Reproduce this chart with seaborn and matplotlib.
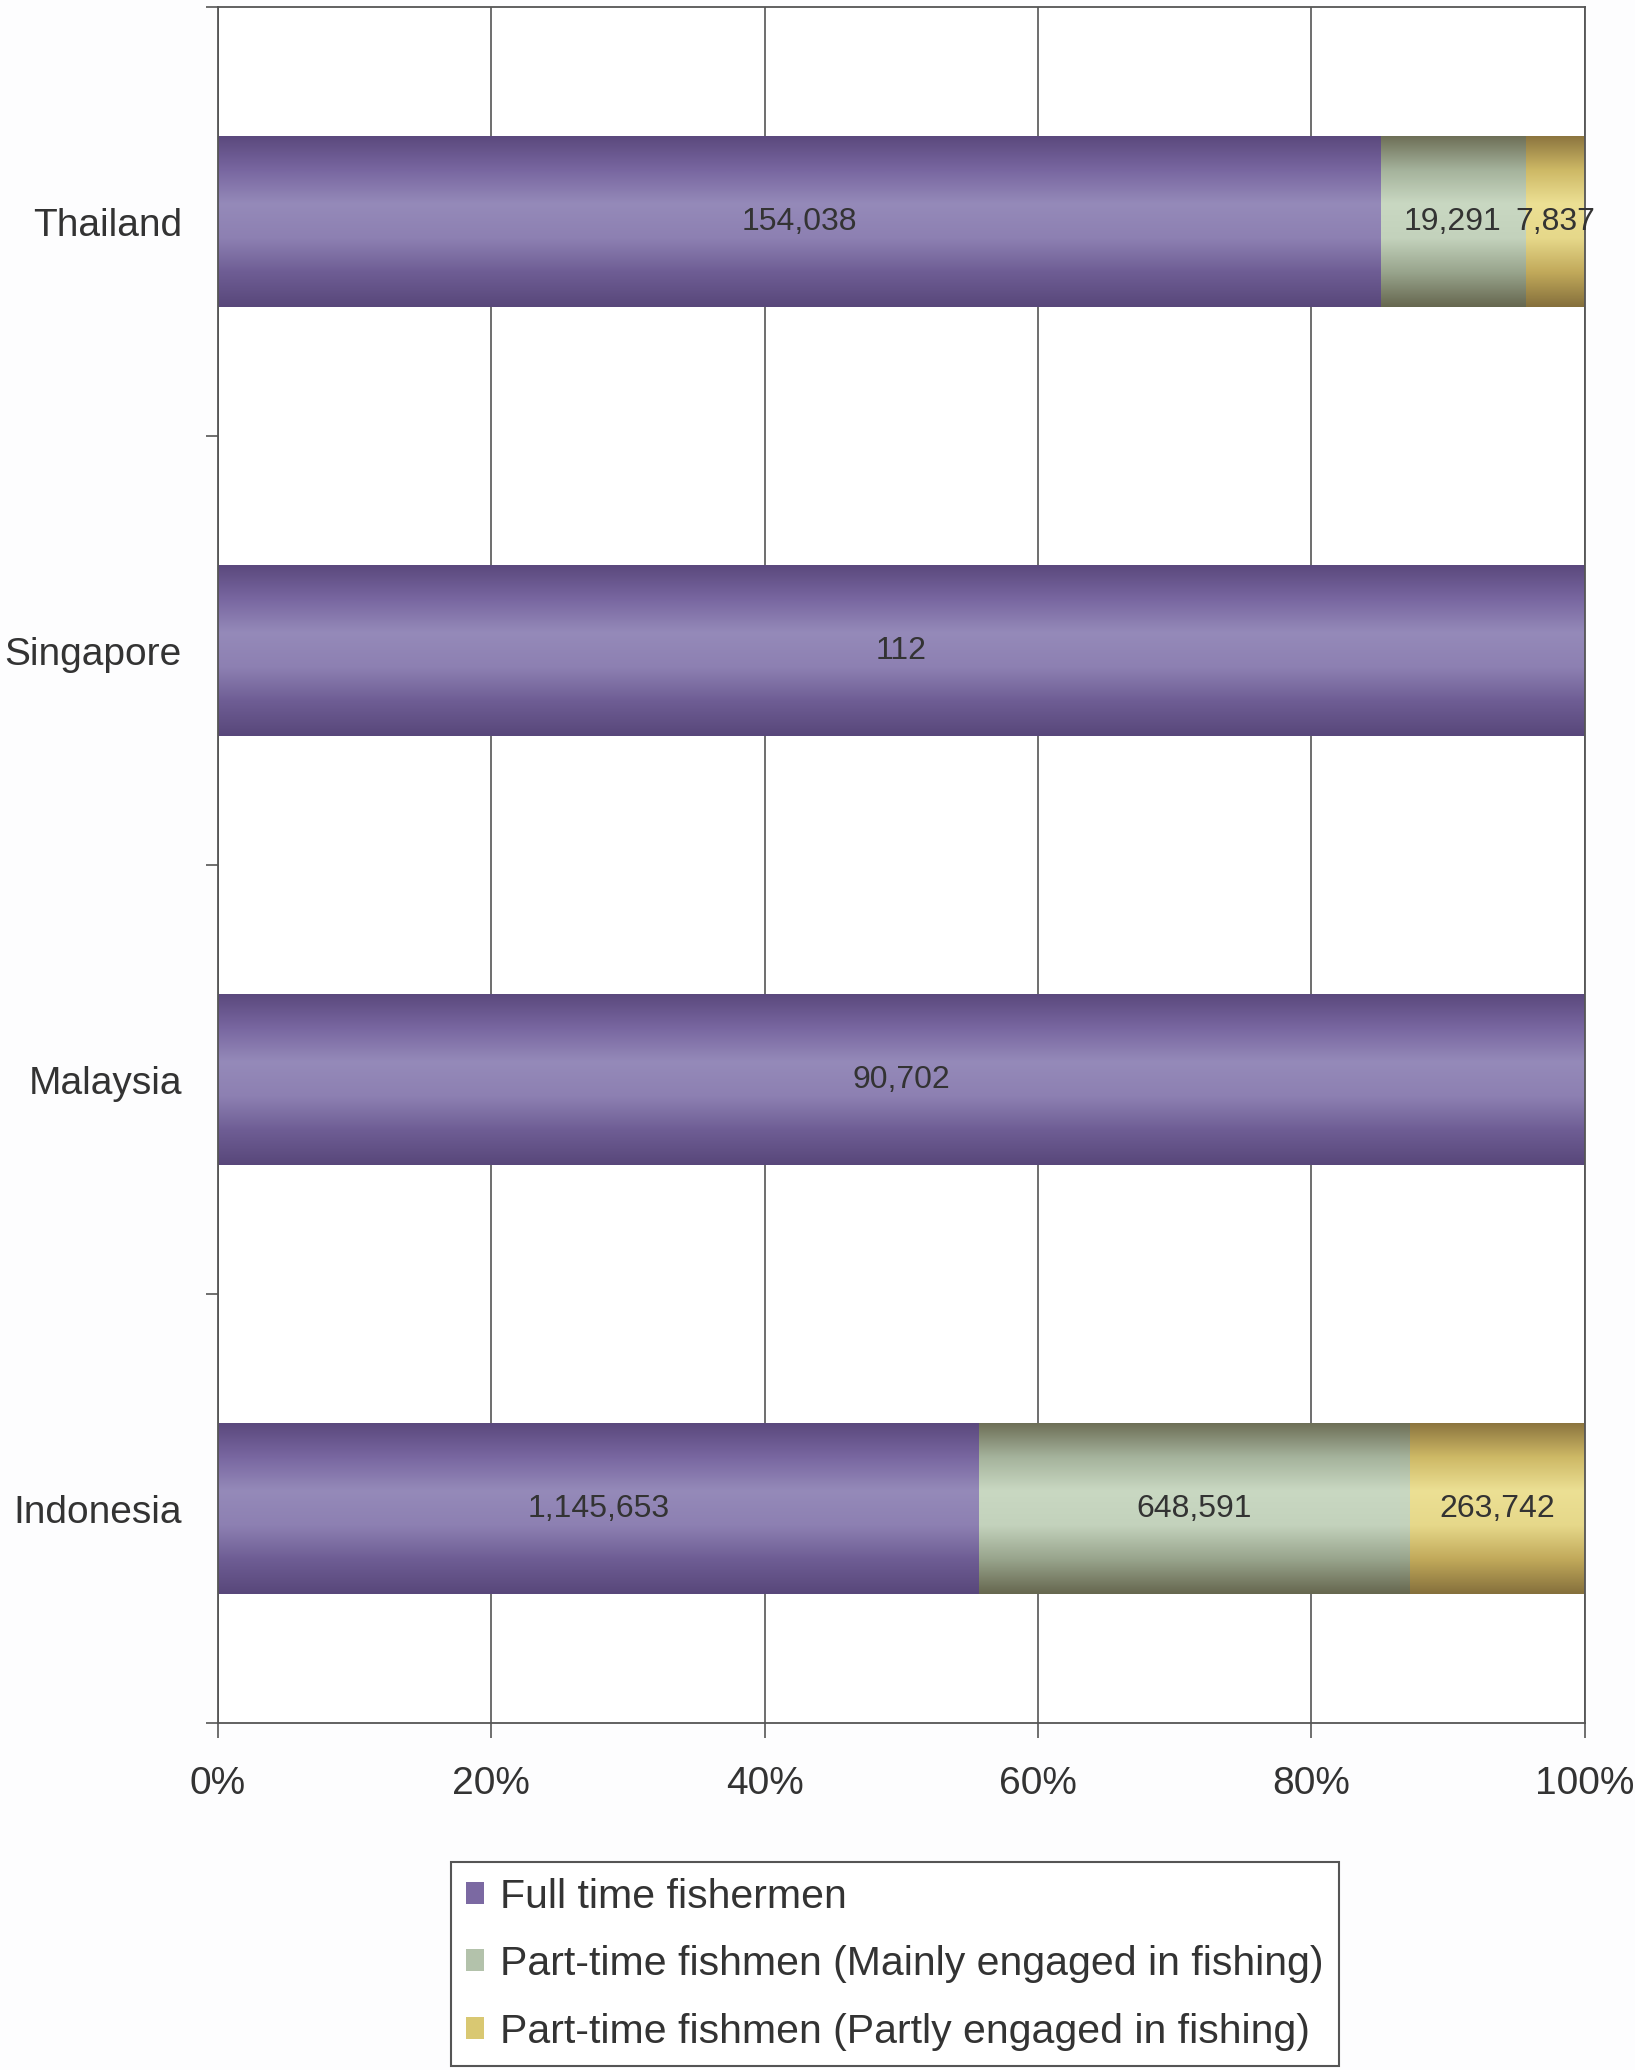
import numpy as np
import pandas as pd
import matplotlib
matplotlib.use("Agg")
import matplotlib.pyplot as plt
import seaborn as sns
from matplotlib.colors import LinearSegmentedColormap
from matplotlib.patches import Patch

# Fishers by employment type, per country
countries = ["Thailand", "Singapore", "Malaysia", "Indonesia"]
full_time = [154038, 112, 90702, 1145653]
part_mainly = [19291, 0, 0, 648591]
part_partly = [7837, 0, 0, 263742]
series_names = [
    "Full time fishermen",
    "Part-time fishmen (Mainly engaged in fishing)",
    "Part-time fishmen (Partly engaged in fishing)",
]
x_ticks = [0, 20, 40, 60, 80, 100]

sns.set_theme(style="white")
plt.rcParams["font.family"] = ["Liberation Sans", "DejaVu Sans"]

df = pd.DataFrame({"country": countries, "full": full_time,
                   "mainly": part_mainly, "partly": part_partly})
total = df[["full", "mainly", "partly"]].sum(axis=1)
df["p_full"] = df["full"] / total * 100
df["p_mainly"] = df["mainly"] / total * 100
df["p_partly"] = df["partly"] / total * 100
df["cum1"] = df["p_full"]
df["cum2"] = df["cum1"] + df["p_mainly"]
df["cum3"] = df["cum2"] + df["p_partly"]

base_colors = ["#7b69a2", "#b3c2ab", "#d9c872"]
# dark edge -> light centre -> dark edge, giving a rounded tube look
ramps = [
    ["#5a487c", "#7866a0", "#958ab9", "#8d80b2", "#6e5d94", "#58477a"],
    ["#6c6d55", "#a4b29b", "#c9d8c2", "#c3d2bc", "#98a48c", "#66674f"],
    ["#8a733e", "#cdb865", "#ece094", "#e6d88a", "#c1a95a", "#85703c"],
]
cmaps = [LinearSegmentedColormap.from_list(f"ramp{i}", r) for i, r in enumerate(ramps)]

fig = plt.figure(figsize=(16.35, 20.7), dpi=100)
fig.patch.set_facecolor("#fdfdfe")
ax = fig.add_axes([0.1333, 0.1676, 0.836, 0.8290])
ax.set_facecolor("white")

# Stack by overdrawing cumulative totals, widest first
order_cols = [("cum3", 2), ("cum2", 1), ("cum1", 0)]
for col, si in order_cols:
    sns.barplot(data=df, x=col, y="country", order=countries, orient="h",
                color=base_colors[si], saturation=1, width=0.4, linewidth=0,
                errorbar=None, ax=ax)

# Shaded fill for each bar, clipped to the bar outline
grad = np.linspace(0, 1, 256).reshape(-1, 1)
n = len(countries)
for i, p in enumerate(ax.patches):
    si = order_cols[i // n][1]
    w = p.get_width()
    if w <= 0:
        continue
    x0, y0, h = p.get_x(), p.get_y(), p.get_height()
    im = ax.imshow(grad, cmap=cmaps[si], extent=(x0, x0 + w, y0 + h, y0),
                   aspect="auto", interpolation="bicubic", zorder=2 + i * 0.01)
    im.set_clip_path(p)

# Value labels at the centre of each segment
for r, row in df.iterrows():
    left = 0.0
    for raw, pct in [("full", "p_full"), ("mainly", "p_mainly"), ("partly", "p_partly")]:
        if row[raw] > 0:
            ax.text(left + row[pct] / 2, r, f"{int(row[raw]):,}", ha="center", va="center",
                    fontsize=23, color="#333333", zorder=5)
        left += row[pct]

ax.set_xlim(0, 100)
ax.set_ylim(3.5, -0.5)
ax.set_xlabel("")
ax.set_ylabel("")

ax.set_xticks(x_ticks)
ax.set_xticklabels([f"{v}%" for v in x_ticks])
ax.set_yticks(range(n))
ax.set_yticklabels(countries)
ax.set_yticks([k - 0.5 for k in range(n + 1)], minor=True)

ax.xaxis.grid(True, color="#555555", linewidth=1.2)
ax.yaxis.grid(False)
ax.set_axisbelow(True)

ax.tick_params(axis="x", bottom=True, length=11, width=1.2, color="#555555",
               direction="out", pad=20, labelsize=28, labelcolor="#333333")
ax.tick_params(axis="y", which="major", left=False, length=0, pad=26,
               labelsize=28, labelcolor="#333333")
ax.tick_params(axis="y", which="minor", left=True, length=9, width=1.2,
               color="#555555", direction="out")

for s in ax.spines.values():
    s.set_visible(True)
    s.set_color("#555555")
    s.set_linewidth(1.3)

handles = [Patch(facecolor=c, edgecolor="none") for c in base_colors]
leg = fig.legend(handles, series_names, loc="upper center",
                 bbox_to_anchor=(0.5474, 0.1005), fontsize=29.5, frameon=True,
                 fancybox=False, edgecolor="#555555", framealpha=1,
                 borderpad=0.38, borderaxespad=0, labelspacing=0.72,
                 handlelength=0.42, handleheight=0.45, handletextpad=0.4)
leg.get_frame().set_linewidth(1.5)
for t in leg.get_texts():
    t.set_color("#333333")

fig.savefig("out.png", dpi=100, facecolor=fig.get_facecolor())
